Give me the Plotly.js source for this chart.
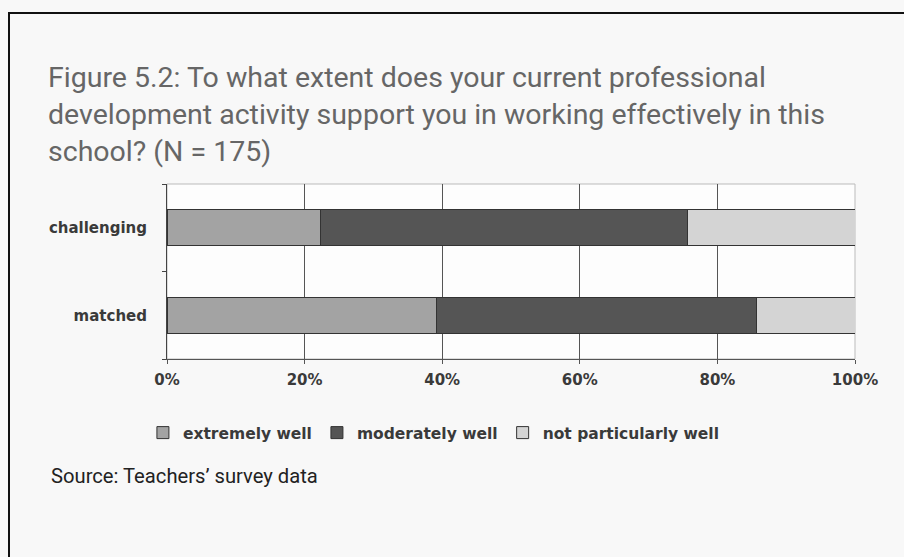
<!DOCTYPE html>
<html>
<head>
<meta charset="utf-8">
<script src="https://cdn.plot.ly/plotly-3.0.1.min.js"></script>
<style>
  html, body { margin: 0; padding: 0; background: #f8f8f8; }
  #frame { position: absolute; left: 8px; top: 12px; width: 1000px; height: 1000px;
           border-left: 2px solid #111; border-top: 2px solid #111; background: #f8f8f8; }
  #chart { position: absolute; left: 0; top: 0; width: 904px; height: 557px; }
</style>
</head>
<body>
<div id="frame"></div>
<div id="chart"></div>
<script>
const categories = ['challenging', 'matched'];
const seriesNames = ['extremely well', 'moderately well', 'not particularly well'];
const extremelyWell = [22.3, 39.1];
const moderatelyWell = [53.3, 46.6];
const notParticularlyWell = [24.4, 14.3];
const xTickValues = [0, 20, 40, 60, 80, 100];
const xTickLabels = ['0%', '20%', '40%', '60%', '80%', '100%'];
const titleText = 'Figure 5.2: To what extent does your current professional<br>development activity support you in working effectively in this<br>school? (N = 175)';
const sourceText = 'Source: Teachers\u2019 survey data';

const seriesValues = [extremelyWell, moderatelyWell, notParticularlyWell];
const colors = ['#a3a3a3', '#555555', '#d4d4d4'];
const smallFont = { family: 'DejaVu Sans, Verdana, sans-serif', size: 15, color: '#3a3a3a', weight: 'bold' };
const legendFont = { family: 'DejaVu Sans, Verdana, sans-serif', size: 15.5, color: '#3a3a3a', weight: 'bold' };

const traces = seriesNames.map((name, i) => ({
  type: 'bar',
  orientation: 'h',
  name: name,
  y: categories,
  x: seriesValues[i],
  marker: { color: colors[i], line: { color: '#333333', width: 1 } },
  hoverinfo: 'x+name'
}));

const layout = {
  width: 904, height: 557,
  paper_bgcolor: 'rgba(0,0,0,0)',
  plot_bgcolor: '#fdfdfd',
  barmode: 'stack',
  bargap: 0.59,
  margin: { l: 166.5, r: 48.5, t: 184, b: 198, pad: 0 },
  showlegend: true,
  legend: {
    orientation: 'h', x: -0.035, xanchor: 'left', y: -0.423, yanchor: 'middle',
    font: legendFont,
    bgcolor: 'rgba(0,0,0,0)', traceorder: 'normal'
  },
  title: {
    text: titleText,
    xref: 'container', yref: 'container',
    x: 48 / 904, xanchor: 'left',
    y: 1 - 87 / 557, yanchor: 'top',
    font: { family: 'Roboto, sans-serif', size: 28.5, color: '#666666', weight: 400 }
  },
  xaxis: {
    range: [0, 100],
    tickvals: xTickValues, ticktext: xTickLabels,
    showgrid: true, gridcolor: '#555', gridwidth: 1,
    showline: true, linecolor: '#555', linewidth: 1,
    ticks: 'outside', ticklen: 4, tickcolor: '#555',
    zeroline: false,
    tickfont: smallFont,
    ticklabelstandoff: 3,
    fixedrange: true
  },
  yaxis: {
    type: 'category',
    categoryorder: 'array', categoryarray: categories.slice().reverse(),
    showline: true, linecolor: '#444', linewidth: 1,
    ticks: 'outside', ticklen: 4, tickcolor: '#444', tickson: 'boundaries',
    showgrid: false,
    tickfont: smallFont,
    ticklabelstandoff: 16,
    fixedrange: true
  },
  shapes: [{
    type: 'rect', xref: 'paper', yref: 'paper', x0: 0, x1: 1, y0: 0, y1: 1,
    line: { color: '#bbbbbb', width: 1 }, layer: 'below'
  }],
  annotations: [{
    text: sourceText, xref: 'paper', yref: 'paper',
    x: (48 - 166.5) / 689, xanchor: 'left',
    y: (359 - 476) / 175, yanchor: 'middle',
    showarrow: false,
    font: { family: 'Roboto, sans-serif', size: 20.2, color: '#222' }
  }]
};

Plotly.newPlot('chart', traces, layout, { displayModeBar: false });
</script>
</body>
</html>
